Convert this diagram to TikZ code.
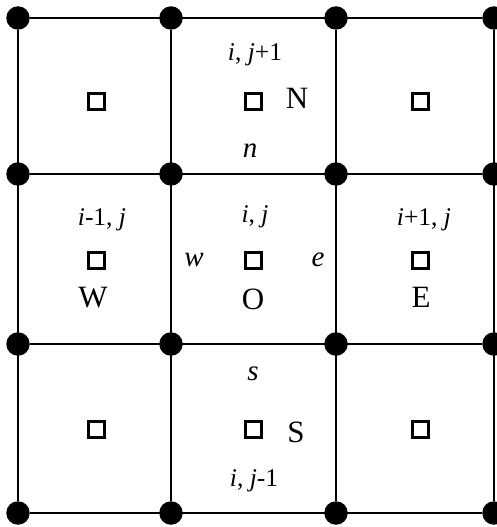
\documentclass[tikz,border=0pt]{standalone}
\usepackage{fontspec}
\setmainfont{Liberation Serif}
\tikzset{
  mesh/line/.style={line width=2.5pt},
  mesh/dot/.style={circle, fill=black, minimum size=23.5pt, inner sep=0pt},
  mesh/cell/.style={draw, line width=3pt, minimum size=16pt, inner sep=0pt},
  mesh/idx/.style={anchor=base, font=\fontsize{25.5}{28}\selectfont},
  mesh/face/.style={anchor=base, font=\fontsize{29}{32}\selectfont\itshape},
  mesh/name/.style={anchor=base, font=\fontsize{31}{34}\selectfont},
}

\begin{document}
\begin{tikzpicture}[x=1pt, y=-1pt]
  \useasboundingbox (0,0) rectangle (497,527);
% vertices
\foreach \c/\x in {0/18,1/171,2/336,3/494}
  \foreach \r/\y in {0/18,1/174,2/344,3/513}
    \node[mesh/dot] (v\c\r) at (\x,\y) {};
% grid lines
\foreach \r in {0,...,3}
  \draw[mesh/line] (v0\r) -- (v3\r);
\foreach \c in {0,...,3}
  \draw[mesh/line] (v\c0) -- (v\c3);
% cell centres
\foreach \c/\x in {0/96,1/253,2/420}
  \foreach \r/\y in {0/101,1/260,2/429}
    \node[mesh/cell] (p\c\r) at (\x,\y) {};
% indices
\node[mesh/idx] (iN) at (255,60) {\textit{i}, \textit{j}+1};
\node[mesh/idx] (iW) at (102,225) {\textit{i}-1, \textit{j}};
\node[mesh/idx] (iO) at (255,222) {\textit{i}, \textit{j}};
\node[mesh/idx] (iE) at (424,225) {\textit{i}+1, \textit{j}};
\node[mesh/idx] (iS) at (254,486) {\textit{i}, \textit{j}-1};
% faces
\node[mesh/face] (fn) at (250,157) {n};
\node[mesh/face] (fw) at (194,266) {w};
\node[mesh/face] (fe) at (318,266) {e};
\node[mesh/face] (fs) at (253,380) {s};
% node names
\node[mesh/name] (nN) at (297,108) {N};
\node[mesh/name] (nW) at (93,307) {W};
\node[mesh/name] (nO) at (253,309) {O};
\node[mesh/name] (nE) at (421,307) {E};
\node[mesh/name] (nS) at (296,442) {S};

\end{tikzpicture}
\end{document}
